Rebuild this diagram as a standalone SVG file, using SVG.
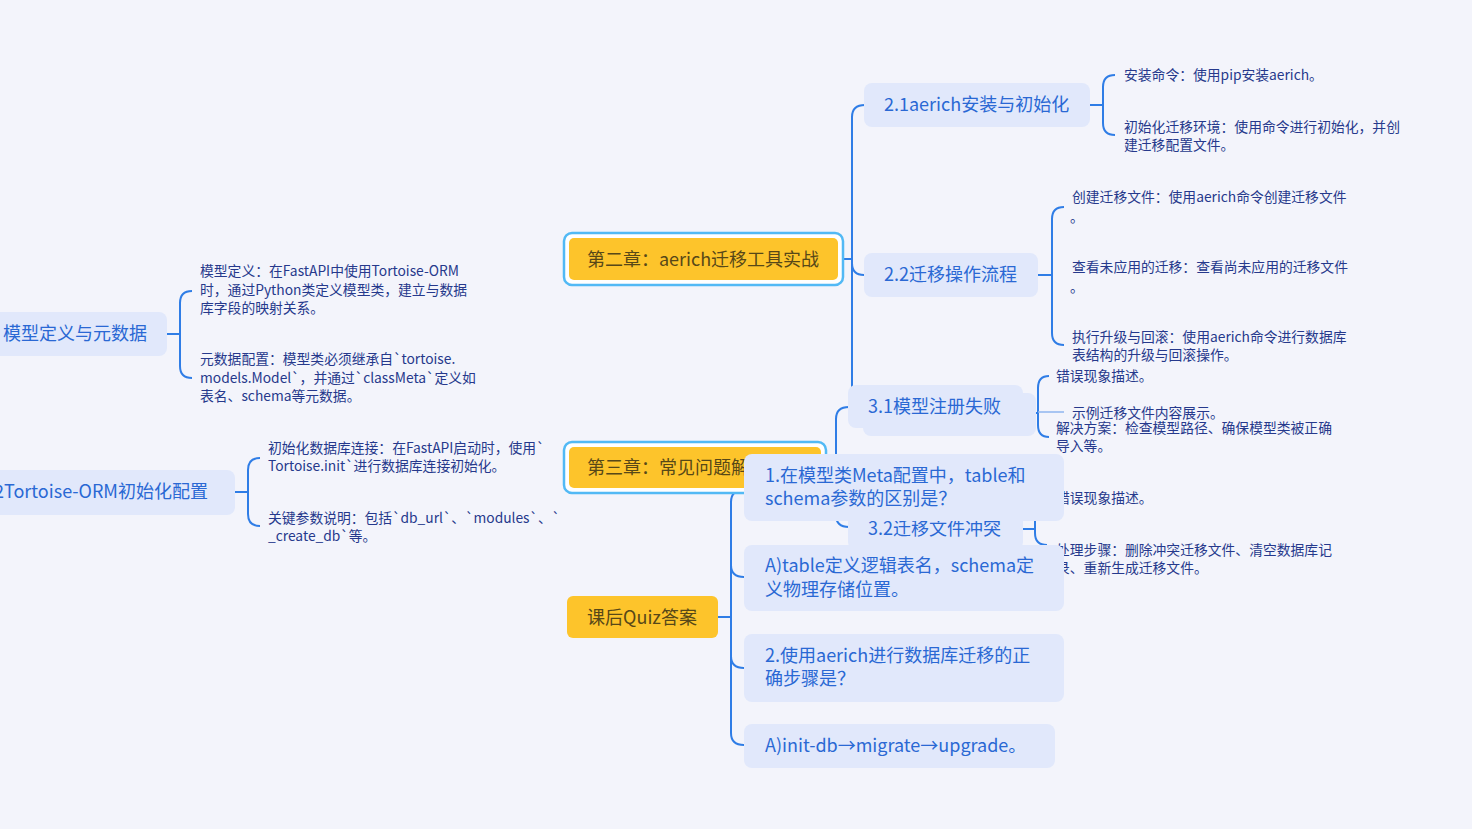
<svg xmlns="http://www.w3.org/2000/svg" width="1472" height="829" viewBox="0 0 1472 829">
<defs>
<style>
.bg{fill:#f3f4fb}
.node{fill:#e1e8fb}
.nt{font-family:"Noto Sans CJK SC","Noto Sans",sans-serif;font-size:18px;fill:#2a68d4}
.leaf{font-family:"Noto Sans CJK SC","Noto Sans",sans-serif;font-size:13.8px;fill:#26398c}
.chap{fill:#fdc42b}
.chapb{fill:#ffffff;stroke:#52b9f5;stroke-width:2.5}
.ct{font-family:"Noto Sans CJK SC","Noto Sans",sans-serif;font-size:18px;fill:#574818}
.c{fill:none;stroke:#2f7de6;stroke-width:2}
.cl{fill:none;stroke:#8fb6ef;stroke-width:1.5}
</style>
</defs>
<rect class="bg" x="0" y="0" width="1472" height="829"/>

<g id="connectors">
<path class="c" d="M167,334 H180 M192,291 Q180,291 180,303 V366 Q180,378 192,378"/>
<path class="c" d="M235,492 H248 M260,458 Q248,458 248,470 V514 Q248,526 260,526"/>
<path class="c" d="M843,259 H852 M865,105 Q852,105 852,117 V400 M852,263 Q852,275 864,275"/>
<path class="c" d="M1090,105 H1103 M1115,75 Q1103,75 1103,87 V123 Q1103,135 1115,135"/>
<path class="c" d="M1038,275 H1052 M1064,207 Q1052,207 1052,219 V333 Q1052,345 1064,345"/>
<path class="c" d="M1024,413 H1038 M1049,376 Q1038,376 1038,388 V425 Q1038,437 1049,437"/>
<path class="cl" d="M1038,412 H1064"/>
<path class="c" d="M826,467 H836 M849,407 Q836,407 836,419 V515 Q836,527 849,527"/>
<path class="c" d="M1023,529 H1035 M1047,490 Q1035,490 1035,502 V533 Q1035,545 1047,545"/>
<path class="c" d="M718,617 H731 M744,490 Q731,490 731,502 V733 Q731,745 744,745 M731,565 Q731,577 744,577 M731,656 Q731,668 744,668"/>
</g>

<g id="n-model">
<rect class="node" x="-10" y="312" width="177" height="44" rx="8"/>
<text class="nt" x="3" y="340">模型定义与元数据</text>
</g>
<g id="n-model-leaves">
<text class="leaf" x="200" y="276">模型定义：在FastAPI中使用Tortoise-ORM</text>
<text class="leaf" x="200" y="295">时，通过Python类定义模型类，建立与数据</text>
<text class="leaf" x="200" y="313">库字段的映射关系。</text>
<text class="leaf" x="200" y="364">元数据配置：模型类必须继承自`tortoise.</text>
<text class="leaf" x="200" y="383">models.Model`，并通过`classMeta`定义如</text>
<text class="leaf" x="200" y="401">表名、schema等元数据。</text>
</g>

<g id="n-init">
<rect class="node" x="-10" y="470" width="245" height="45" rx="8"/>
<text class="nt" x="-6" y="498">2Tortoise-ORM初始化配置</text>
</g>
<g id="n-init-leaves">
<text class="leaf" x="268" y="453">初始化数据库连接：在FastAPI启动时，使用`</text>
<text class="leaf" x="268" y="471">Tortoise.init`进行数据库连接初始化。</text>
<text class="leaf" x="268" y="523">关键参数说明：包括`db_url`、`modules`、`</text>
<text class="leaf" x="268" y="541">_create_db`等。</text>
</g>

<g id="n-ch2">
<rect class="chapb" x="564" y="233" width="279" height="52" rx="8"/>
<rect class="chap" x="569" y="238" width="269" height="42" rx="5"/>
<text class="ct" x="703" y="265.5" text-anchor="middle">第二章：aerich迁移工具实战</text>
</g>

<g id="n-21">
<rect class="node" x="864" y="83" width="226" height="44" rx="8"/>
<text class="nt" x="884" y="111">2.1aerich安装与初始化</text>
</g>
<g id="n-21-leaves">
<text class="leaf" x="1124" y="80">安装命令：使用pip安装aerich。</text>
<text class="leaf" x="1124" y="132">初始化迁移环境：使用命令进行初始化，并创</text>
<text class="leaf" x="1124" y="150">建迁移配置文件。</text>
</g>

<g id="n-22">
<rect class="node" x="864" y="253" width="174" height="44" rx="8"/>
<text class="nt" x="884" y="281">2.2迁移操作流程</text>
</g>
<g id="n-22-leaves">
<text class="leaf" x="1072" y="202">创建迁移文件：使用aerich命令创建迁移文件</text>
<text class="leaf" x="1070" y="222">。</text>
<text class="leaf" x="1072" y="272">查看未应用的迁移：查看尚未应用的迁移文件</text>
<text class="leaf" x="1070" y="292">。</text>
<text class="leaf" x="1072" y="342">执行升级与回滚：使用aerich命令进行数据库</text>
<text class="leaf" x="1072" y="360">表结构的升级与回滚操作。</text>
</g>

<g id="n-31">
<rect class="node" x="863" y="393" width="173" height="43" rx="8"/>
<rect class="node" x="848" y="385" width="175" height="43" rx="8"/>
<text class="nt" x="868" y="413">3.1模型注册失败</text>
</g>
<g id="n-31-leaves">
<text class="leaf" x="1056" y="381">错误现象描述。</text>
<text class="leaf" x="1072" y="418">示例迁移文件内容展示。</text>
<text class="leaf" x="1056" y="433">解决方案：检查模型路径、确保模型类被正确</text>
<text class="leaf" x="1056" y="451">导入等。</text>
</g>

<g id="n-32">
<rect class="node" x="848" y="507" width="175" height="43" rx="8"/>
<text class="nt" x="868" y="535">3.2迁移文件冲突</text>
</g>
<g id="n-32-leaves">
<text class="leaf" x="1056" y="503">错误现象描述。</text>
<text class="leaf" x="1056" y="555">处理步骤：删除冲突迁移文件、清空数据库记</text>
<text class="leaf" x="1056" y="573">录、重新生成迁移文件。</text>
</g>

<g id="n-ch3">
<rect class="chapb" x="564" y="442" width="262" height="51" rx="8"/>
<rect class="chap" x="569" y="447" width="252" height="41" rx="5"/>
<text class="ct" x="587" y="473.5">第三章：常见问题解决</text>
</g>

<g id="n-quiz">
<rect class="chap" x="567" y="596" width="151" height="42" rx="6"/>
<text class="ct" x="642" y="623.5" text-anchor="middle">课后Quiz答案</text>
</g>

<g id="n-q1">
<rect class="node" x="744" y="454" width="320" height="67" rx="8"/>
<text class="nt" x="765" y="482">1.在模型类Meta配置中，table和</text>
<text class="nt" x="765" y="505">schema参数的区别是？</text>
</g>
<g id="n-a1">
<rect class="node" x="744" y="545" width="320" height="66" rx="8"/>
<text class="nt" x="765" y="572">A)table定义逻辑表名，schema定</text>
<text class="nt" x="765" y="596">义物理存储位置。</text>
</g>
<g id="n-q2">
<rect class="node" x="744" y="634" width="320" height="68" rx="8"/>
<text class="nt" x="765" y="662">2.使用aerich进行数据库迁移的正</text>
<text class="nt" x="765" y="685">确步骤是？</text>
</g>
<g id="n-a2">
<rect class="node" x="744" y="724" width="311" height="44" rx="8"/>
<text class="nt" x="765" y="752">A)init-db→migrate→upgrade。</text>
</g>
</svg>
